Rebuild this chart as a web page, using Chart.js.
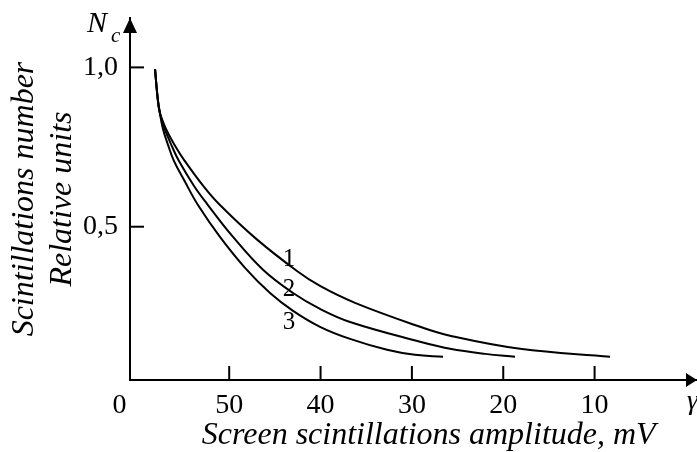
<!DOCTYPE html>
<html>
<head>
<meta charset="utf-8">
<script src="https://cdn.jsdelivr.net/npm/chart.js@4.4.1/dist/chart.umd.min.js"></script>
<style>
  html, body { margin: 0; padding: 0; background: #fff; }
  #wrap { width: 697px; height: 452px; position: relative; }
</style>
</head>
<body>
<div id="wrap"><canvas id="myChart"></canvas></div>
<script>
// amplitude (mV) and relative scintillation number
const amp1 = [58.12, 57.87, 57.61, 56.92, 55.93, 54.95, 52.76, 51.01, 47.17, 42.58, 40.06, 36.23, 29.11, 25.83, 18.16, 8.31]
const n1 = [0.995, 0.914, 0.860, 0.807, 0.754, 0.710, 0.625, 0.568, 0.465, 0.361, 0.314, 0.261, 0.186, 0.158, 0.117, 0.092]

const amp2 = [58.12, 57.87, 57.61, 57.06, 56.34, 55.50, 53.85, 52.43, 49.58, 46.30, 43.01, 40.06, 36.77, 29.11, 25.83, 21.99, 18.71]
const n2 = [0.995, 0.914, 0.860, 0.807, 0.757, 0.706, 0.628, 0.572, 0.468, 0.365, 0.292, 0.242, 0.201, 0.139, 0.117, 0.101, 0.092]

const amp3 = [58.12, 57.87, 57.61, 57.25, 56.70, 56.04, 54.84, 53.42, 51.01, 48.27, 45.53, 43.01, 40.06, 36.77, 32.72, 29.66, 26.59]
const n3 = [0.995, 0.914, 0.860, 0.807, 0.757, 0.706, 0.641, 0.568, 0.468, 0.371, 0.292, 0.236, 0.186, 0.148, 0.114, 0.098, 0.092]

const curveNames = ['1', '2', '3']

// the origin "0" sits a little left of the axis corner
const xTicks = [62, 50, 40, 30, 20, 10]
const xTickText = ['0', '50', '40', '30', '20', '10']
const yTicks = [0.5, 1.0]
const yTickText = ['0,5', '1,0']

const serif = '"Liberation Serif", "Times New Roman", serif'

function toPoints (xs, ys) {
  return xs.map((x, i) => ({ x: x, y: ys[i] }))
}

function curve (xs, ys) {
  return {
    data: toPoints(xs, ys),
    borderColor: '#000',
    borderWidth: 2,
    pointRadius: 0,
    fill: false,
    tension: 0.4
  }
}

const extras = {
  id: 'extras',
  afterDraw (chart, args, opts) {
    const ctx = chart.ctx
    const { left, bottom, top } = chart.chartArea
    const xs = chart.scales.x
    const ys = chart.scales.y
    ctx.save()
    ctx.strokeStyle = '#000'
    ctx.fillStyle = '#000'
    ctx.lineWidth = 2

    // short tick marks pointing into the plot
    xs.ticks.forEach(t => {
      if (t.value > xs.max || t.value < xs.min) return
      const p = xs.getPixelForValue(t.value)
      ctx.beginPath()
      ctx.moveTo(p, bottom)
      ctx.lineTo(p, bottom - 14)
      ctx.stroke()
    })
    ys.ticks.forEach(t => {
      const p = ys.getPixelForValue(t.value)
      ctx.beginPath()
      ctx.moveTo(left, p)
      ctx.lineTo(left + 14, p)
      ctx.stroke()
    })

    // arrow heads
    ctx.beginPath()
    ctx.moveTo(left, top)
    ctx.lineTo(left - 7, top + 15)
    ctx.lineTo(left + 7, top + 15)
    ctx.closePath()
    ctx.fill()
    const w = chart.width
    ctx.beginPath()
    ctx.moveTo(w, bottom)
    ctx.lineTo(w - 11, bottom - 7)
    ctx.lineTo(w - 11, bottom + 7)
    ctx.closePath()
    ctx.fill()

    // axis symbols
    ctx.textAlign = 'left'
    ctx.textBaseline = 'alphabetic'
    ctx.font = 'italic 30px ' + serif
    ctx.fillText('N', 87, 32)
    ctx.font = 'italic 21px ' + serif
    ctx.fillText('c', 111, 42)
    ctx.font = 'italic 28px ' + serif
    ctx.fillText('γ', 687, 409)

    // curve numbers
    ctx.font = '25px ' + serif
    ctx.textAlign = 'center'
    ctx.textBaseline = 'middle'
    opts.labelAt.forEach((p, i) => {
      ctx.fillText(curveNames[i], xs.getPixelForValue(p[0]), ys.getPixelForValue(p[1]))
    })
    ctx.restore()
  }
}

const ctx = document.querySelector('#myChart')
const myChart = new Chart(ctx, {
  type: 'line',
  data: {
    datasets: [curve(amp1, n1), curve(amp2, n2), curve(amp3, n3)]
  },
  options: {
    responsive: true,
    maintainAspectRatio: false,
    animation: false,
    layout: { padding: { top: 18, right: 0, left: 0, bottom: 0 } },
    plugins: {
      legend: { display: false },
      tooltip: { enabled: false },
      extras: { labelAt: [[43.45, 0.396], [43.45, 0.302], [43.45, 0.201]] }
    },
    scales: {
      x: {
        type: 'linear',
        reverse: true,
        min: -1.21,
        max: 60.86,
        grid: { display: false, drawTicks: false },
        border: { display: true, color: '#000', width: 2 },
        afterBuildTicks: scale => { scale.ticks = xTicks.map(v => ({ value: v })) },
        afterFit: scale => { scale.height = 72 },
        ticks: {
          autoSkip: false,
          maxRotation: 0,
          padding: 9,
          color: '#000',
          font: { family: serif, size: 28 },
          callback: (value, index) => xTickText[index]
        },
        title: {
          display: true,
          // leading spaces nudge the centred title right, as in the original
          text: '   \u2009Screen scintillations amplitude, mV',
          color: '#000',
          padding: 0,
          font: { family: serif, size: 32, style: 'italic', lineHeight: 1 }
        }
      },
      y: {
        type: 'linear',
        min: 0.019,
        max: 1.155,
        grid: { display: false, drawTicks: false },
        border: { display: true, color: '#000', width: 2 },
        afterBuildTicks: scale => { scale.ticks = yTicks.map(v => ({ value: v })) },
        afterFit: scale => { scale.width = 130 },
        ticks: {
          autoSkip: false,
          padding: 12,
          color: '#000',
          font: { family: serif, size: 28, lineHeight: 0.2 },
          callback: (value, index) => yTickText[index]
        },
        title: {
          display: true,
          text: ['Scintillations number', 'Relative units'],
          color: '#000',
          padding: { top: 5, bottom: 0 },
          font: { family: serif, size: 32, style: 'italic', lineHeight: 1.2 }
        }
      }
    }
  },
  plugins: [extras]
})
</script>
</body>
</html>
